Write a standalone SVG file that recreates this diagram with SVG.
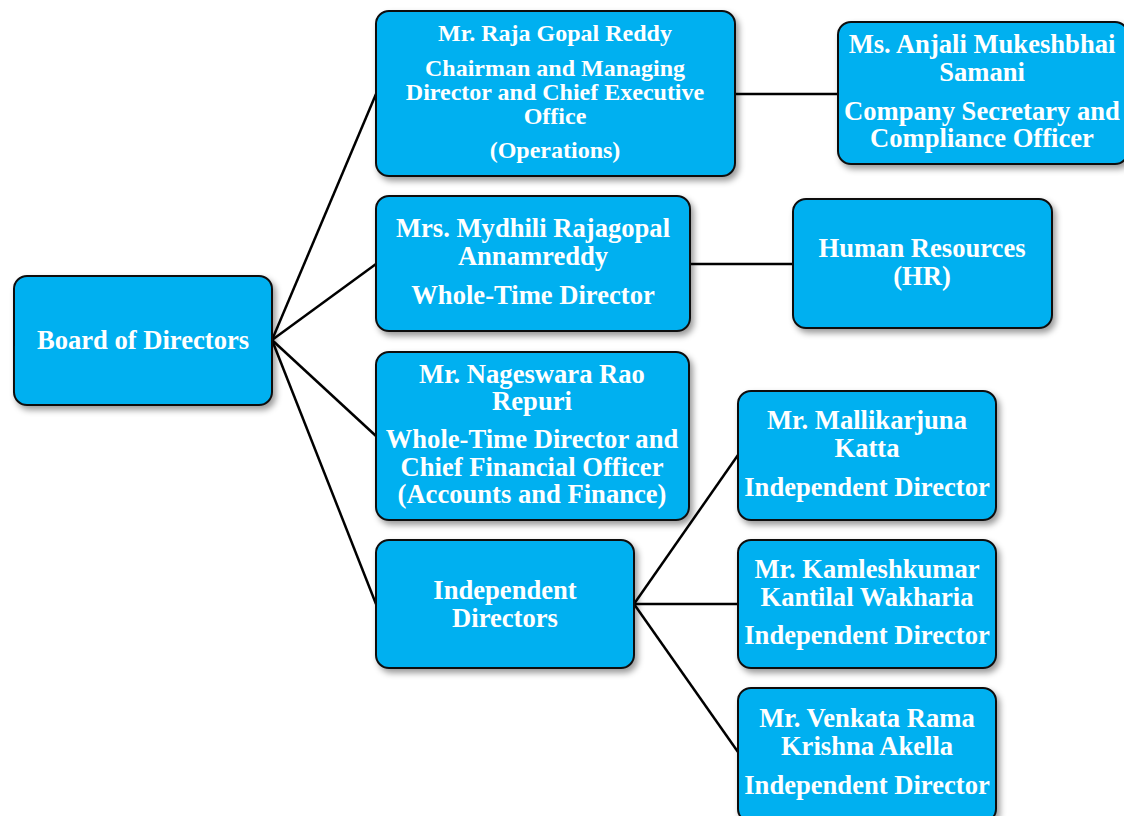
<svg xmlns="http://www.w3.org/2000/svg" width="1124" height="816" viewBox="0 0 1124 816">
<defs>
<filter id="sh" x="-10%" y="-10%" width="130%" height="140%">
<feDropShadow dx="3" dy="4" stdDeviation="3" flood-color="#000" flood-opacity="0.4"/>
</filter>
<style>
.box{fill:#00B0F0;stroke:#111;stroke-width:2;filter:url(#sh)}
text{font-family:"Liberation Serif","Times New Roman",serif;font-weight:bold;font-size:26.6px;fill:#fff;text-anchor:middle}
.s24{font-size:24px}
.con{stroke:#000;stroke-width:2.5;fill:none}
</style>
</defs>
<rect width="1124" height="816" fill="#fff"/>
<g id="connectors">
<line class="con" x1="272" y1="340" x2="376" y2="94"/>
<line class="con" x1="272" y1="340" x2="376" y2="264"/>
<line class="con" x1="272" y1="340" x2="376" y2="436"/>
<line class="con" x1="272" y1="340" x2="376" y2="604"/>
<line class="con" x1="735" y1="94" x2="838" y2="94"/>
<line class="con" x1="690" y1="264" x2="793" y2="264"/>
<line class="con" x1="634" y1="604" x2="738" y2="455"/>
<line class="con" x1="634" y1="604" x2="738" y2="604"/>
<line class="con" x1="634" y1="604" x2="738" y2="752"/>
</g>
<g id="board">
<rect class="box" x="14" y="276" width="258" height="129" rx="13"/>
<text x="143" y="349">Board of Directors</text>
</g>
<g id="raja">
<rect class="box" x="376" y="11" width="359" height="165" rx="13"/>
<text class="s24" x="555" y="41">Mr. Raja Gopal Reddy</text>
<text class="s24" x="555" y="76">Chairman and Managing</text>
<text class="s24" x="555" y="100">Director and Chief Executive</text>
<text class="s24" x="555" y="124">Office</text>
<text class="s24" x="555" y="158">(Operations)</text>
</g>
<g id="anjali">
<rect class="box" x="838" y="22" width="290" height="142" rx="13"/>
<text x="982" y="53">Ms. Anjali Mukeshbhai</text>
<text x="982" y="81">Samani</text>
<text x="982" y="120">Company Secretary and</text>
<text x="982" y="147">Compliance Officer</text>
</g>
<g id="mydhili">
<rect class="box" x="376" y="196" width="314" height="135" rx="13"/>
<text x="533" y="237">Mrs. Mydhili Rajagopal</text>
<text x="533" y="265">Annamreddy</text>
<text x="533" y="304">Whole-Time Director</text>
</g>
<g id="hr">
<rect class="box" x="793" y="199" width="259" height="129" rx="13"/>
<text x="922" y="257">Human Resources</text>
<text x="922" y="285">(HR)</text>
</g>
<g id="nageswara">
<rect class="box" x="376" y="352" width="313" height="168" rx="13"/>
<text x="532" y="383">Mr. Nageswara Rao</text>
<text x="532" y="410">Repuri</text>
<text x="532" y="448">Whole-Time Director and</text>
<text x="532" y="476">Chief Financial Officer</text>
<text x="532" y="503">(Accounts and Finance)</text>
</g>
<g id="independent">
<rect class="box" x="376" y="540" width="258" height="128" rx="13"/>
<text x="505" y="599">Independent</text>
<text x="505" y="627">Directors</text>
</g>
<g id="mallikarjuna">
<rect class="box" x="738" y="391" width="258" height="129" rx="13"/>
<text x="867" y="429">Mr. Mallikarjuna</text>
<text x="867" y="457">Katta</text>
<text x="867" y="496">Independent Director</text>
</g>
<g id="kamleshkumar">
<rect class="box" x="738" y="540" width="258" height="128" rx="13"/>
<text x="867" y="578">Mr. Kamleshkumar</text>
<text x="867" y="606">Kantilal Wakharia</text>
<text x="867" y="644">Independent Director</text>
</g>
<g id="venkata">
<rect class="box" x="738" y="688" width="258" height="134" rx="13"/>
<text x="867" y="727">Mr. Venkata Rama</text>
<text x="867" y="755">Krishna Akella</text>
<text x="867" y="794">Independent Director</text>
</g>
</svg>
